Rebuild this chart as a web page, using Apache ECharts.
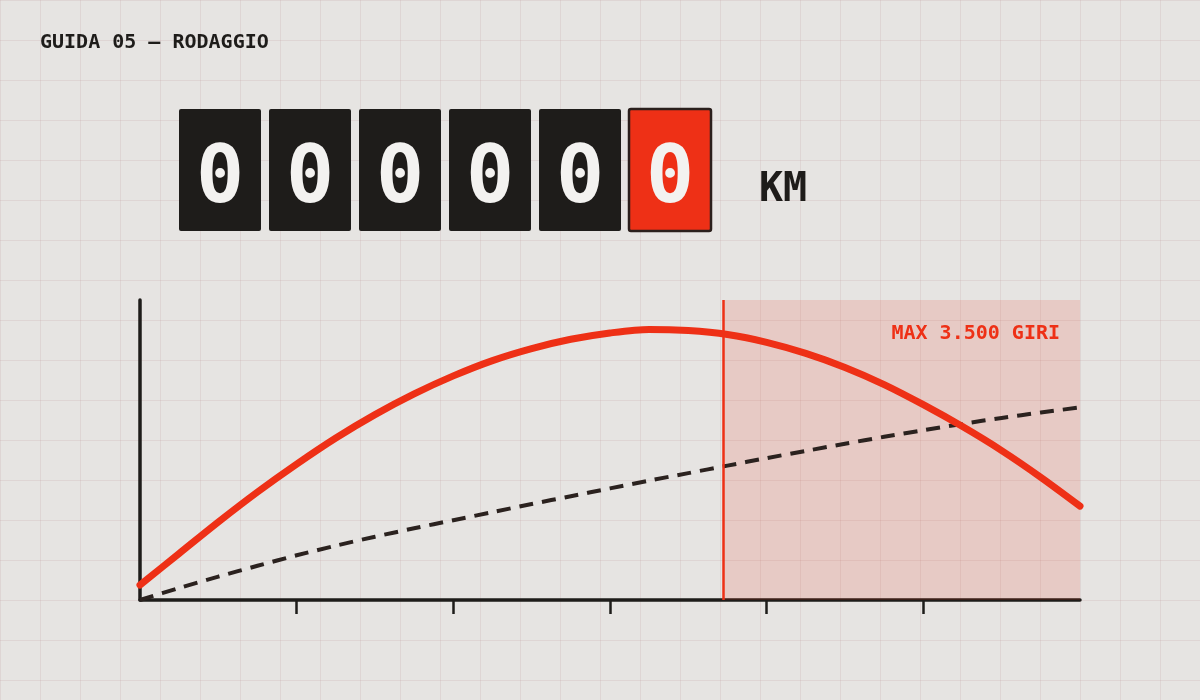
<!DOCTYPE html>
<html>
<head>
<meta charset="utf-8">
<title>Guida 05 - Rodaggio</title>
<script src="https://cdn.jsdelivr.net/npm/echarts@6/dist/echarts.min.js"></script>
<style>
    html, body {
        margin: 0;
        padding: 0;
        background-color: #e6e4e2;
        background-image:
            linear-gradient(to right, rgba(190, 155, 155, 0.2) 1px, transparent 1px),
            linear-gradient(to bottom, rgba(190, 155, 155, 0.2) 1px, transparent 1px);
        background-size: 40px 40px;
    }
    #chart {
        width: 1200px;
        height: 700px;
    }
</style>
</head>
<body>
<div id="chart"></div>
<script>
// data
const xs = [0, 0.25, 0.5, 0.75, 1, 1.25, 1.5, 1.75, 2, 2.25, 2.5, 2.75, 3,
    3.25, 3.5, 3.75, 4, 4.25, 4.5, 4.75, 5, 5.25, 5.5, 5.75, 6];
const coppia = [5, 15.5, 26, 36, 45.3, 54, 61.8, 68.7, 74.7, 79.8, 83.8, 86.9, 89,
    90.2, 89.8, 88.5, 85.9, 82.2, 77.5, 71.8, 65.1, 57.8, 49.8, 40.9, 31.3];
const usura = [0, 4, 7.8, 11.4, 14.9, 18.1, 21.1, 23.9, 26.6, 29.3, 32, 34.6, 37.2,
    39.8, 42.3, 44.8, 47.3, 49.7, 52.1, 54.4, 56.6, 58.7, 60.7, 62.5, 64.2];
const limite = 3.72;
const tickValues = [1, 2, 3, 4, 5];
const odometro = ['0', '0', '0', '0', '0', '0'];

const title = 'GUIDA 05 \u2014 RODAGGIO';
const limiteLabel = 'MAX 3.500 GIRI';
const unita = 'KM';

const ink = '#1e1c1a';
const red = '#ee3016';
const mono = '"DejaVu Sans Mono", "Liberation Mono", monospace';

let graphics = [{
    type: 'text',
    left: 40,
    top: 33,
    style: {
        text: title,
        font: 'bold 20px ' + mono,
        fill: ink,
    },
}, {
    type: 'text',
    left: 759,
    top: 171,
    style: {
        text: unita,
        font: 'bold 40px ' + mono,
        fill: ink,
    },
}];

odometro.forEach((digit, index) => {
    let last = index === odometro.length - 1;
    graphics.push({
        type: 'rect',
        shape: { x: 179 + index * 90, y: 109, width: 82, height: 122, r: 2 },
        style: {
            fill: last ? red : ink,
            stroke: last ? '#2a1f1c' : null,
            lineWidth: last ? 2.5 : 0,
        },
    });
    graphics.push({
        type: 'text',
        x: 220 + index * 90,
        y: 181,
        style: {
            text: digit,
            font: 'bold 80px ' + mono,
            fill: '#f3f2f0',
            align: 'center',
            verticalAlign: 'middle',
        },
    });
});

const option = {
    backgroundColor: 'transparent',
    animation: false,
    grid: {
        left: 140,
        right: 120,
        top: 300,
        bottom: 100,
    },
    xAxis: {
        type: 'value',
        min: 0,
        max: 6,
        interval: 1,
        axisLine: {
            show: true,
            lineStyle: { color: ink, width: 3.5 },
        },
        axisTick: {
            show: true,
            customValues: tickValues,
            length: 14,
            lineStyle: { color: ink, width: 2.5 },
        },
        axisLabel: { show: false },
        splitLine: { show: false },
    },
    yAxis: {
        type: 'value',
        min: 0,
        max: 100,
        axisLine: {
            show: true,
            lineStyle: { color: ink, width: 3.5 },
        },
        axisTick: { show: false },
        axisLabel: { show: false },
        splitLine: { show: false },
    },
    graphic: graphics,
    series: [{
        type: 'line',
        data: xs.map((x, i) => [x, usura[i]]),
        smooth: 0.3,
        symbol: 'none',
        z: 3,
        lineStyle: {
            color: '#2b221f',
            width: 4,
            type: [14, 9],
        },
    }, {
        type: 'line',
        data: xs.map((x, i) => [x, coppia[i]]),
        smooth: 0.3,
        symbol: 'none',
        z: 4,
        lineStyle: {
            color: red,
            width: 7,
            cap: 'round',
        },
        markArea: {
            silent: true,
            itemStyle: { color: 'rgba(238, 48, 22, 0.14)' },
            label: {
                show: true,
                position: 'insideTopRight',
                distance: 20,
                offset: [0, 4],
                formatter: limiteLabel,
                color: red,
                fontFamily: mono,
                fontWeight: 'bold',
                fontSize: 20,
            },
            data: [[{ xAxis: limite, yAxis: 100 }, { xAxis: 6, yAxis: 0 }]],
        },
        markLine: {
            silent: true,
            symbol: 'none',
            label: { show: false },
            lineStyle: { color: red, width: 2.5, type: 'solid' },
            data: [{ xAxis: limite }],
        },
    }],
};

let myChart = echarts.init(document.getElementById('chart'));
myChart.setOption(option);
window.addEventListener('resize', myChart.resize);
</script>
</body>
</html>
